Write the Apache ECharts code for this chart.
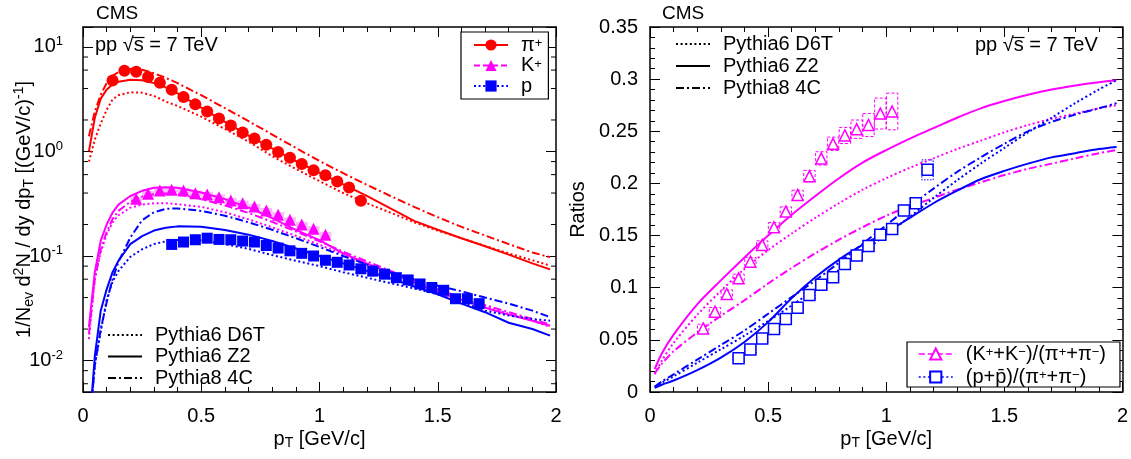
<!DOCTYPE html>
<html><head><meta charset="utf-8">
<script src="https://cdn.jsdelivr.net/npm/echarts@6/dist/echarts.min.js"></script>
<style>html,body{margin:0;padding:0;background:#fff}#c{width:1131px;height:459px}</style>
</head><body><div id="c"></div>
<script>
const FONT = '"Liberation Sans", Arial, Helvetica, sans-serif';

// ---------------- Left panel: spectra ----------------
const piX = [0.125,0.175,0.225,0.275,0.325,0.375,0.425,0.475,0.525,0.575,0.625,0.675,0.725,0.775,0.825,0.875,0.925,0.975,1.025,1.075,1.125,1.175];
const piY = [4.78,5.92,5.79,5.14,4.54,3.89,3.31,2.82,2.41,2.07,1.77,1.52,1.33,1.16,0.99,0.87,0.757,0.66,0.593,0.516,0.452,0.337];
const piSys = [0.19,0.24,0.23,0.21,0.18,0.16,0.13,0.11,0.10,0.08,0.07,0.06,0.05,0.05,0.04,0.035,0.03,0.026,0.024,0.021,0.018,0.013];
const kX = [0.225,0.275,0.325,0.375,0.425,0.475,0.525,0.575,0.625,0.675,0.725,0.775,0.825,0.875,0.925,0.975,1.025];
const kY = [0.352,0.394,0.423,0.430,0.423,0.399,0.388,0.365,0.340,0.320,0.298,0.272,0.248,0.222,0.200,0.182,0.160];
const kSys = [0.021,0.024,0.025,0.026,0.025,0.024,0.023,0.022,0.020,0.019,0.018,0.016,0.015,0.013,0.012,0.011,0.010];
const pX = [0.375,0.425,0.475,0.525,0.575,0.625,0.675,0.725,0.775,0.825,0.875,0.925,0.975,1.025,1.075,1.125,1.175,1.225,1.275,1.325,1.375,1.425,1.475,1.525,1.575,1.625,1.675];
const pY = [0.129,0.136,0.143,0.148,0.144,0.143,0.139,0.136,0.126,0.119,0.112,0.106,0.100,0.091,0.087,0.082,0.0754,0.0716,0.067,0.062,0.059,0.054,0.050,0.047,0.039,0.039,0.035];

const mcX = [0.025,0.05,0.075,0.1,0.125,0.15,0.2,0.25,0.3,0.35,0.4,0.5,0.6,0.7,0.8,0.9,1.0,1.1,1.2,1.3,1.4,1.5,1.6,1.7,1.8,1.9,1.975];
const piD6T = [0.80,1.30,1.85,2.50,3.15,3.45,3.68,3.65,3.40,3.00,2.72,2.15,1.64,1.24,0.90,0.68,0.52,0.40,0.32,0.26,0.21,0.175,0.148,0.125,0.106,0.091,0.081];
const piZ2  = [1.00,2.10,3.20,3.90,4.40,4.65,4.85,4.80,4.50,4.10,3.60,2.62,1.92,1.42,1.07,0.81,0.625,0.485,0.375,0.285,0.217,0.178,0.148,0.124,0.103,0.085,0.0745];
const pi4C  = [1.40,2.40,3.50,4.50,5.30,5.75,6.15,6.05,5.60,5.05,4.50,3.45,2.60,1.95,1.45,1.08,0.81,0.62,0.48,0.375,0.295,0.235,0.19,0.157,0.13,0.108,0.0975];
const kD6T  = [0.016,0.060,0.110,0.160,0.210,0.245,0.290,0.310,0.320,0.320,0.313,0.295,0.262,0.224,0.188,0.156,0.128,0.104,0.084,0.069,0.057,0.047,0.039,0.033,0.028,0.024,0.021];
const kZ2   = [0.021,0.070,0.140,0.200,0.260,0.310,0.375,0.420,0.450,0.455,0.450,0.405,0.350,0.290,0.230,0.178,0.142,0.106,0.085,0.069,0.056,0.045,0.038,0.032,0.0275,0.024,0.0215];
const k4C   = [0.018,0.060,0.115,0.170,0.225,0.270,0.330,0.370,0.390,0.395,0.390,0.350,0.305,0.258,0.212,0.172,0.138,0.110,0.089,0.072,0.059,0.048,0.040,0.034,0.029,0.025,0.022];
const pD6T  = [0.002,0.009,0.019,0.038,0.057,0.072,0.098,0.116,0.130,0.138,0.142,0.141,0.130,0.117,0.102,0.090,0.080,0.070,0.062,0.055,0.049,0.043,0.036,0.030,0.027,0.025,0.024];
const pZ2   = [0.002,0.011,0.030,0.048,0.070,0.090,0.130,0.155,0.175,0.186,0.192,0.190,0.177,0.160,0.139,0.118,0.100,0.085,0.072,0.061,0.051,0.043,0.035,0.029,0.023,0.020,0.0173];
const p4C   = [0.002,0.009,0.020,0.036,0.060,0.088,0.150,0.220,0.262,0.283,0.285,0.270,0.243,0.210,0.178,0.148,0.122,0.100,0.083,0.070,0.060,0.052,0.046,0.040,0.035,0.030,0.026];

const logMinor = [0.006,0.008,0.02,0.04,0.06,0.08,0.2,0.4,0.6,0.8,2,4,6,8];

// ---------------- Right panel: ratios ----------------
const kpiX = [0.225,0.275,0.325,0.375,0.425,0.475,0.525,0.575,0.625,0.675,0.725,0.775,0.825,0.875,0.925,0.975,1.025];
const kpiY = [0.061,0.077,0.094,0.109,0.125,0.141,0.158,0.173,0.189,0.207,0.224,0.238,0.246,0.252,0.256,0.267,0.269];
const kpiSys = [0.004,0.004,0.004,0.004,0.004,0.004,0.0045,0.0045,0.0045,0.0055,0.0064,0.0064,0.0077,0.0088,0.011,0.0148,0.0176];
const ppiX = [0.375,0.425,0.475,0.525,0.575,0.625,0.675,0.725,0.775,0.825,0.875,0.925,0.975,1.025,1.075,1.125,1.175];
const ppiY = [0.0324,0.0407,0.0513,0.0603,0.0699,0.0808,0.093,0.1029,0.110,0.1228,0.1308,0.1401,0.1507,0.1564,0.174,0.181,0.213];
const ppiSys = [0.004,0.004,0.004,0.004,0.004,0.004,0.004,0.004,0.0045,0.0045,0.0045,0.005,0.005,0.005,0.005,0.005,0.0096];

const rX = [0.02,0.05,0.1,0.2,0.3,0.4,0.5,0.6,0.7,0.8,0.9,1.0,1.1,1.2,1.3,1.4,1.5,1.6,1.7,1.8,1.9,1.975];
const kpiD6T = [0.017,0.030,0.047,0.074,0.097,0.118,0.136,0.152,0.167,0.181,0.194,0.205,0.215,0.224,0.233,0.241,0.249,0.256,0.262,0.267,0.272,0.275];
const kpiZ2  = [0.022,0.037,0.055,0.084,0.107,0.129,0.150,0.170,0.188,0.205,0.220,0.232,0.243,0.253,0.263,0.272,0.279,0.285,0.290,0.294,0.297,0.299];
const kpi4C  = [0.018,0.027,0.039,0.057,0.073,0.088,0.104,0.119,0.133,0.146,0.158,0.169,0.178,0.186,0.194,0.201,0.208,0.214,0.219,0.224,0.229,0.232];
const ppiD6T = [0.005,0.009,0.015,0.028,0.041,0.054,0.068,0.083,0.099,0.117,0.134,0.151,0.168,0.186,0.203,0.219,0.234,0.249,0.263,0.277,0.290,0.299];
const ppiZ2  = [0.004,0.007,0.011,0.021,0.033,0.048,0.067,0.090,0.110,0.127,0.141,0.153,0.167,0.181,0.193,0.204,0.212,0.219,0.225,0.229,0.233,0.235];
const ppi4C  = [0.005,0.010,0.017,0.031,0.045,0.059,0.075,0.091,0.107,0.124,0.142,0.160,0.178,0.195,0.211,0.225,0.238,0.250,0.259,0.266,0.272,0.277];

const xTicks = [0, 0.5, 1, 1.5, 2];
const xTickLabels = ['0', '0.5', '1', '1.5', '2'];

// ---------------- helpers ----------------
const RED = '#ff0000', MAG = '#ff00ff', BLUE = '#0000ff';
const DOT = [2, 2.6], DASHDOT = [8, 3, 2, 3], DASH = [6, 3];
const zip = (xs, ys) => xs.map((x, i) => [x, ys[i]]);
const boxes = (xs, ys, es) => xs.map((x, i) => [x, ys[i] - es[i], ys[i] + es[i]]);

function xAxisDef(grid, pos, showLabel) {
  return {
    type: 'value', gridIndex: grid, position: pos, min: 0, max: 2, interval: 0.5,
    axisLine: { show: true, onZero: false, lineStyle: { color: '#000', width: 1.5 } },
    axisTick: { show: true, inside: true, length: 10, lineStyle: { color: '#000', width: 1 } },
    minorTick: { show: true, splitNumber: 5, length: 5, lineStyle: { color: '#000', width: 1 } },
    splitLine: { show: false },
    axisLabel: {
      show: showLabel, margin: 14, color: '#000', fontSize: 20, fontFamily: FONT,
      formatter: v => { const i = xTicks.findIndex(t => Math.abs(t - v) < 1e-9); return i >= 0 ? xTickLabels[i] : ''; }
    },
    name: showLabel ? '{b|p}{sub|T}{b| [GeV/c]}' : '',
    nameLocation: 'middle', nameGap: 36, nameMoveOverlap: false,
    nameTextStyle: { color: '#000', rich: {
      b: { fontSize: 20, fontFamily: FONT, color: '#000', lineHeight: 22 },
      sub: { fontSize: 14, fontFamily: FONT, color: '#000', lineHeight: 10, verticalAlign: 'bottom' } } }
  };
}

function logYAxis(pos, showLabel) {
  return {
    type: 'log', logBase: 10, gridIndex: 0, position: pos, min: 0.005, max: 15.5,
    axisLine: { show: true, onZero: false, lineStyle: { color: '#000', width: 1.5 } },
    axisTick: { show: true, inside: true, length: 10, lineStyle: { color: '#000', width: 1 } },
    minorTick: { show: false }, splitLine: { show: false },
    axisLabel: {
      show: showLabel, margin: 20, color: '#000',
      formatter: v => {
        const e = Math.log10(v); const r = Math.round(e);
        if (Math.abs(e - r) > 1e-6) return '';
        return '{b|10}{s|' + r + '}';
      },
      rich: {
        b: { fontSize: 20, fontFamily: FONT, color: '#000', lineHeight: 24 },
        s: { fontSize: 13, fontFamily: FONT, color: '#000', lineHeight: 13, verticalAlign: 'top' }
      }
    },
    name: showLabel ? '{n|1/N}{sub|ev}{n| d}{sup|2}{n|N / dy dp}{sub|T}{n| [(GeV/c)}{sup|-1}{n|]}' : '',
    nameLocation: 'middle', nameGap: 47, nameRotate: 90, nameMoveOverlap: false,
    nameTextStyle: { color: '#000', rich: {
      n: { fontSize: 20, fontFamily: FONT, color: '#000', lineHeight: 24 },
      sub: { fontSize: 14, fontFamily: FONT, color: '#000', lineHeight: 10, verticalAlign: 'bottom' },
      sup: { fontSize: 14, fontFamily: FONT, color: '#000', lineHeight: 13, verticalAlign: 'top' } } }
  };
}

function linYAxis(pos, showLabel) {
  return {
    type: 'value', gridIndex: 1, position: pos, min: 0, max: 0.35, interval: 0.05,
    axisLine: { show: true, onZero: false, lineStyle: { color: '#000', width: 1.5 } },
    axisTick: { show: true, inside: true, length: 10, lineStyle: { color: '#000', width: 1 } },
    minorTick: { show: true, splitNumber: 5, length: 5, lineStyle: { color: '#000', width: 1 } },
    splitLine: { show: false },
    axisLabel: { show: showLabel, margin: 12, color: '#000', fontSize: 20, fontFamily: FONT,
      formatter: v => String(+v.toFixed(2)) },
    name: showLabel ? 'Ratios' : '', nameLocation: 'middle', nameGap: 62, nameMoveOverlap: false,
    nameTextStyle: { color: '#000', fontSize: 20, fontFamily: FONT }
  };
}

function curve(name, xs, ys, color, dash, xi, yi) {
  return { type: 'line', name, xAxisIndex: xi, yAxisIndex: yi, data: zip(xs, ys),
    symbol: 'none', smooth: xi >= 2 ? 0.3 : false, z: 3,
    lineStyle: { color, width: 2, type: dash }, silent: true, animation: false };
}

function points(name, xs, ys, symbol, size, itemStyle, xi, yi) {
  return { type: 'line', name, xAxisIndex: xi, yAxisIndex: yi, data: zip(xs, ys),
    symbol, symbolSize: size, showSymbol: true, showAllSymbol: true, z: 5,
    itemStyle, lineStyle: { width: 0, opacity: 0 }, animation: false };
}

function bandSeries(data, style, xi, yi, half) {
  return { type: 'custom', xAxisIndex: xi, yAxisIndex: yi, data, z: 2, silent: true, animation: false,
    encode: { x: 0, y: [1, 2] },
    renderItem: (params, api) => {
      const x = api.value(0);
      const a = api.coord([x - half, api.value(2)]);
      const b = api.coord([x + half, api.value(1)]);
      return { type: 'rect', shape: { x: a[0], y: a[1], width: b[0] - a[0], height: b[1] - a[1] }, style };
    } };
}

const minorTickSeries = {
  type: 'custom', xAxisIndex: 0, yAxisIndex: 0, silent: true, animation: false, z: 6,
  data: logMinor.map(v => [0, v]), encode: { x: 0, y: 1 },
  renderItem: (params, api) => {
    const v = api.value(1);
    const l = api.coord([0, v]), r = api.coord([2, v]);
    const st = { stroke: '#000', lineWidth: 1 };
    return { type: 'group', children: [
      { type: 'line', shape: { x1: l[0], y1: l[1], x2: l[0] + 5, y2: l[1] }, style: st },
      { type: 'line', shape: { x1: r[0] - 5, y1: r[1], x2: r[0], y2: r[1] }, style: st } ] };
  }
};

const legendNames = {
  'pi': '{g|}{t|π}{s|+}', 'K': '{g|}{t|K}{s|+}', 'p': '{g|}{t|p}',
  'Pythia6 D6T': '{g|}{t|Pythia6 D6T}', 'Pythia6 Z2': '{g|}{t|Pythia6 Z2}', 'Pythia8 4C': '{g|}{t|Pythia8 4C}',
  'Kpi': '{g|}{t|(K}{s|+}{t|+K}{s|−}{t|)/(π}{s|+}{t|+π}{s|−}{t|)}',
  'ppi': '{g|}{t|(p+p\u0304)/(π}{s|+}{t|+π}{s|−}{t|)}'
};
const legendRich = {
  g: { width: 8, lineHeight: 14, fontSize: 10 },
  t: { fontSize: 20, fontFamily: FONT, color: '#000', lineHeight: 16 },
  s: { fontSize: 13, fontFamily: FONT, color: '#000', lineHeight: 10, verticalAlign: 'top' }
};
function legendDef(data, left, top, boxed, gap, pad) {
  return {
    orient: 'vertical', left, top, itemWidth: 34, itemHeight: 14, itemGap: gap,
    selectedMode: false, data, formatter: n => legendNames[n],
    textStyle: { rich: legendRich, fontSize: 14, lineHeight: 16, fontFamily: FONT, color: '#000' },
    padding: pad, backgroundColor: boxed ? '#fff' : 'transparent',
    borderColor: '#000', borderWidth: boxed ? 1.2 : 0, borderRadius: 0
  };
}
const mcLegendData = [
  { name: 'Pythia6 D6T', itemStyle: { opacity: 0 } },
  { name: 'Pythia6 Z2', itemStyle: { opacity: 0 } },
  { name: 'Pythia8 4C', itemStyle: { opacity: 0 } }
];

const option = {
  backgroundColor: '#fff',
  animation: false,
  grid: [
    { left: 83, top: 27, width: 473, height: 365 },
    { left: 650, top: 27, width: 473, height: 365 }
  ],
  xAxis: [ xAxisDef(0, 'bottom', true), xAxisDef(0, 'top', false), xAxisDef(1, 'bottom', true), xAxisDef(1, 'top', false) ],
  yAxis: [ logYAxis('left', true), logYAxis('right', false), linYAxis('left', true), linYAxis('right', false) ],
  legend: [
    legendDef([
      { name: 'pi', lineStyle: { color: RED, width: 2, type: 'solid', opacity: 1 } },
      { name: 'K', lineStyle: { color: MAG, width: 2, type: DASH, opacity: 1 } },
      { name: 'p', lineStyle: { color: BLUE, width: 2, type: DOT, opacity: 1 } }
    ], 461, 32, true, 0.5, [3, 6, 3, 12]),
    legendDef(mcLegendData, 107, 325, false, 1.5, 0),
    legendDef(mcLegendData, 675, 34, false, 2, 0),
    legendDef([
      { name: 'Kpi', lineStyle: { color: MAG, width: 1.5, type: DASH, opacity: 1 } },
      { name: 'ppi', lineStyle: { color: BLUE, width: 1.5, type: DOT, opacity: 1 } }
    ], 907, 342, true, 3, [2, 14, 0, 11])
  ],
  graphic: [
    { type: 'text', left: 96, top: 4, style: { text: 'CMS', font: '19px ' + FONT, fill: '#000' } },
    { type: 'text', left: 662, top: 4, style: { text: 'CMS', font: '19px ' + FONT, fill: '#000' } },
    { type: 'text', left: 95, top: 35, style: { text: 'pp √s = 7 TeV', font: '20px ' + FONT, fill: '#000' } },
    { type: 'text', left: 975, top: 35, style: { text: 'pp √s = 7 TeV', font: '20px ' + FONT, fill: '#000' } },
    { type: 'line', shape: { x1: 133, y1: 37.5, x2: 144.5, y2: 37.5 }, style: { stroke: '#000', lineWidth: 1.2 } },
    { type: 'line', shape: { x1: 1013, y1: 37.5, x2: 1024.5, y2: 37.5 }, style: { stroke: '#000', lineWidth: 1.2 } }
  ],
  series: [
    minorTickSeries,
    bandSeries(boxes(piX, piY, piSys), { fill: '#f6c0e4' }, 0, 0, 0.025),
    bandSeries(boxes(kX, kY, kSys), { fill: '#f7bdf7' }, 0, 0, 0.025),
    curve('piD6T', mcX, piD6T, RED, DOT, 0, 0),
    curve('piZ2', mcX, piZ2, RED, 'solid', 0, 0),
    curve('pi4C', mcX, pi4C, RED, DASHDOT, 0, 0),
    curve('kD6T', mcX, kD6T, MAG, DOT, 0, 0),
    curve('kZ2', mcX, kZ2, MAG, 'solid', 0, 0),
    curve('k4C', mcX, k4C, MAG, DASHDOT, 0, 0),
    curve('pD6T', mcX, pD6T, BLUE, DOT, 0, 0),
    curve('pZ2', mcX, pZ2, BLUE, 'solid', 0, 0),
    curve('p4C', mcX, p4C, BLUE, DASHDOT, 0, 0),
    points('pi', piX, piY, 'circle', 12, { color: RED }, 0, 0),
    points('K', kX, kY, 'triangle', 12, { color: MAG }, 0, 0),
    points('p', pX, pY, 'rect', 11, { color: BLUE }, 0, 0),
    { type: 'line', name: 'Pythia6 D6T', xAxisIndex: 0, yAxisIndex: 0, data: [], symbol: 'none', lineStyle: { color: '#000', width: 2, type: DOT } },
    { type: 'line', name: 'Pythia6 Z2', xAxisIndex: 0, yAxisIndex: 0, data: [], symbol: 'none', lineStyle: { color: '#000', width: 2, type: 'solid' } },
    { type: 'line', name: 'Pythia8 4C', xAxisIndex: 0, yAxisIndex: 0, data: [], symbol: 'none', lineStyle: { color: '#000', width: 2, type: DASHDOT } },

    bandSeries(boxes(kpiX, kpiY, kpiSys), { fill: 'none', stroke: MAG, lineWidth: 1, lineDash: [3, 2] }, 2, 2, 0.024),
    bandSeries(boxes(ppiX, ppiY, ppiSys), { fill: 'none', stroke: BLUE, lineWidth: 1, lineDash: [1.5, 1.5] }, 2, 2, 0.024),
    curve('kpiD6T', rX, kpiD6T, MAG, DOT, 2, 2),
    curve('kpiZ2', rX, kpiZ2, MAG, 'solid', 2, 2),
    curve('kpi4C', rX, kpi4C, MAG, DASHDOT, 2, 2),
    curve('ppiD6T', rX, ppiD6T, BLUE, DOT, 2, 2),
    curve('ppiZ2', rX, ppiZ2, BLUE, 'solid', 2, 2),
    curve('ppi4C', rX, ppi4C, BLUE, DASHDOT, 2, 2),
    points('Kpi', kpiX, kpiY, 'triangle', 11, { color: '#fff', borderColor: MAG, borderWidth: 1.5 }, 2, 2),
    points('ppi', ppiX, ppiY, 'rect', 11, { color: '#fff', borderColor: BLUE, borderWidth: 1.5 }, 2, 2)
  ]
};

const chart = echarts.init(document.getElementById('c'), null, { renderer: 'canvas' });
chart.setOption(option);
</script></body></html>
